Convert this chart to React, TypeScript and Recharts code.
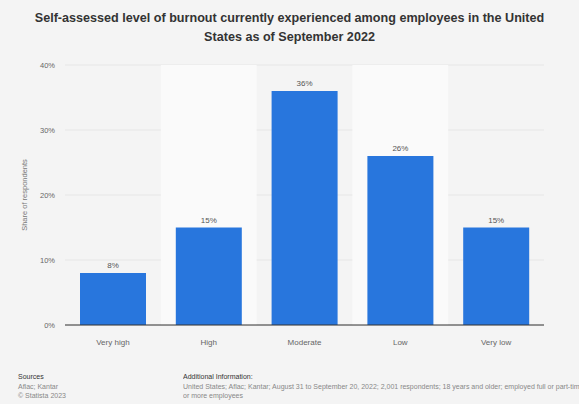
import React from "react";
import {
  BarChart,
  Bar,
  XAxis,
  YAxis,
  CartesianGrid,
  ReferenceArea,
  LabelList,
} from "recharts";

const categories = ["Very high", "High", "Moderate", "Low", "Very low"];
const shares = [8, 15, 36, 26, 15];
const yTicks = [0, 10, 20, 30, 40];
const shadedCategories = ["High", "Low"];

const data = categories.map((name, i) => ({ name, value: shares[i] }));

const FONT = "'Liberation Sans', Arial, sans-serif";

export default function App() {
  return (
    <div
      style={{
        position: "fixed",
        left: 0,
        top: 0,
        width: 579,
        height: 404,
        background: "#f4f4f4",
        fontFamily: FONT,
        overflow: "hidden",
      }}
    >
      <div
        style={{
          position: "absolute",
          top: 9,
          left: 0,
          width: 579,
          textAlign: "center",
          fontSize: 12.6,
          fontWeight: "bold",
          color: "#333",
          lineHeight: "19px",
        }}
      >
        Self-assessed level of burnout currently experienced among employees in the United
        <br />
        States as of September 2022
      </div>

      <div style={{ position: "absolute", left: 0, top: 0 }}>
        <BarChart
          width={579}
          height={404}
          data={data}
          margin={{ top: 65, right: 35, bottom: 49, left: 25 }}
        >
          {shadedCategories.map((c) => (
            <ReferenceArea
              key={c}
              x1={c}
              x2={c}
              y1={0}
              y2={40}
              fill="#fafafa"
              fillOpacity={1}
              stroke="none"
            />
          ))}
          <CartesianGrid vertical={false} stroke="#e6e6e6" />
          <XAxis
            dataKey="name"
            height={30}
            axisLine={{ stroke: "#333", strokeWidth: 1 }}
            tickLine={false}
            tick={{ fontSize: 8, fill: "#666", fontFamily: FONT }}
            tickMargin={8}
          />
          <YAxis
            width={40}
            domain={[0, 40]}
            ticks={yTicks}
            axisLine={false}
            tickLine={false}
            tickSize={0}
            tickMargin={10}
            tickFormatter={(v: number) => `${v}%`}
            tick={{ fontSize: 7.5, fill: "#666", fontFamily: FONT }}
            label={{
              value: "Share of respondents",
              angle: -90,
              position: "insideLeft",
              offset: 0,
              dx: -1,
              style: { fontSize: 7.5, fill: "#777", fontFamily: FONT, textAnchor: "middle" },
            }}
          />
          <Bar dataKey="value" fill="#2876dd" barSize={66} isAnimationActive={false}>
            <LabelList
              dataKey="value"
              position="top"
              offset={5}
              formatter={(v: number) => `${v}%`}
              style={{ fontSize: 8, fill: "#555", fontFamily: FONT }}
            />
          </Bar>
        </BarChart>
      </div>

      <div
        style={{
          position: "absolute",
          left: 18,
          top: 372,
          fontSize: 7,
          lineHeight: "9.5px",
          color: "#888",
        }}
      >
        <div style={{ color: "#333" }}>Sources</div>
        <div>Aflac; Kantar</div>
        <div>© Statista 2023</div>
      </div>

      <div
        style={{
          position: "absolute",
          left: 183,
          top: 372,
          width: 396,
          fontSize: 7,
          lineHeight: "9.5px",
          color: "#888",
          overflow: "hidden",
          whiteSpace: "nowrap",
        }}
      >
        <div style={{ color: "#333" }}>Additional Information:</div>
        <div>
          United States; Aflac; Kantar; August 31 to September 20, 2022; 2,001 respondents; 18 years and older; employed full or part-time at companies with 10
        </div>
        <div>or more employees</div>
      </div>
    </div>
  );
}
